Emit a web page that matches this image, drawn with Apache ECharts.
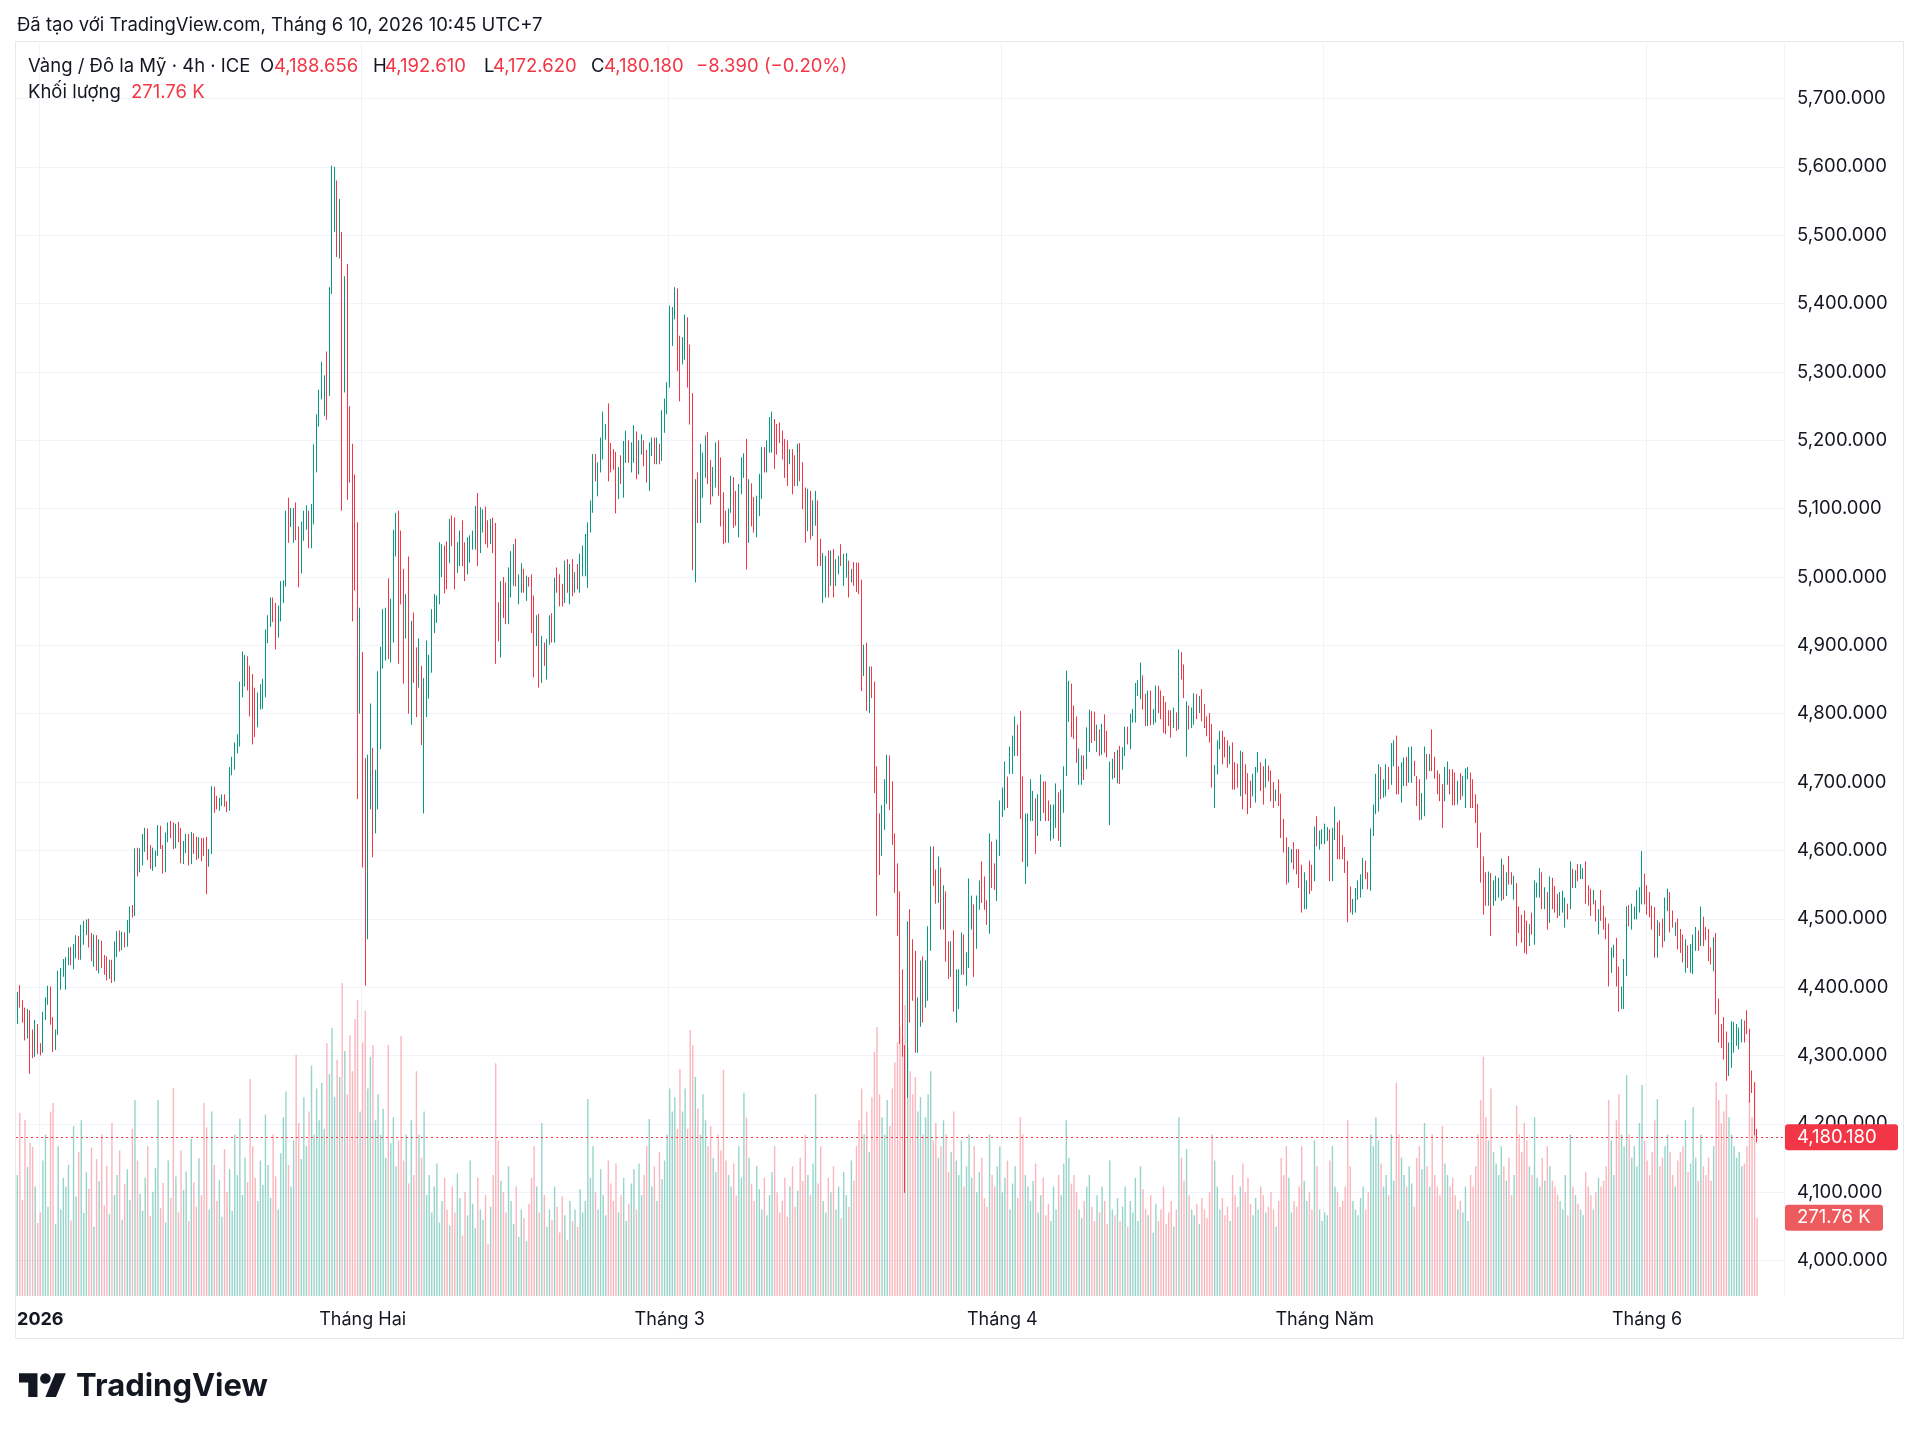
<!DOCTYPE html>
<html>
<head>
<meta charset="utf-8">
<title>Vàng / Đô la Mỹ · 4h · ICE</title>
<script src="https://cdn.jsdelivr.net/npm/echarts@6.0.0/dist/echarts.min.js"></script>
<style>
  html, body { margin: 0; padding: 0; background: #ffffff; }
  #chart { width: 1920px; height: 1433px; }
</style>
</head>
<body>
<div id="chart"></div>
<script>
const barsPerMonth = [9, 126, 120, 130, 126, 126, 44];
const monthNames = ['', '2026', 'Tháng Hai', 'Tháng 3', 'Tháng 4', 'Tháng Năm', 'Tháng 6'];
const rightPadBars = 10;

const opens = [
4350,4390,4375,4352,4328,4362,4303,4300,4335,4310, 4306,4358,4381,4398,4349,4310,4333,4420,4425,4437,
4440,4455,4436,4460,4473,4442,4488,4494,4497,4462, 4442,4474,4428,4466,4432,4421,4414,4437,4410,4464,
4478,4456,4478,4462,4495,4515,4506,4600,4570,4600, 4620,4629,4590,4577,4582,4596,4634,4606,4570,4623,
4638,4622,4606,4636,4616,4585,4611,4621,4581,4624, 4599,4590,4616,4612,4596,4578,4599,4691,4668,4663,
4674,4679,4668,4660,4718,4728,4748,4756,4828,4845, 4879,4867,4855,4835,4784,4811,4811,4828,4907,4931,
4966,4958,4915,4939,4966,4990,5111,5077,5054,5105, 5070,5010,5057,5073,5093,5046,5081,5157,5224,5264,
5240,5326,5270,5418,5560,5575,5470,5498,5284,5452, 5241,5187,5145,5074,4808,4884,4729,4483,4668,4744,
4630,4666,4752,4871,4883,4994,4879,4908,5035,5093, 5064,5008,4915,5025,4788,4943,4893,4842,4865,4800,
4800,4827,4864,4922,4937,4964,5005,5042,5047,5025, 5086,5083,5010,5020,5079,5047,5008,5025,5044,5044,
5119,5039,5069,5099,5079,5052,5083,5075,4959,4886, 4996,4988,4935,4974,4991,5052,4964,4981,5008,4969,
4996,5000,4969,4903,4942,4849,4900,4854,4905,4943, 4908,5010,5000,4986,4966,5022,4964,5022,4981,5015,
4981,5005,5005,4988,5069,5098,5176,5122,5157,5176, 5205,5250,5192,5183,5179,5118,5174,5120,5171,5196,
5157,5171,5209,5154,5183,5196,5182,5130,5181,5200, 5169,5191,5174,5215,5242,5281,5342,5381,5418,5349,
5315,5322,5376,5336,5265,4996,5149,5083,5120,5149, 5208,5167,5122,5135,5196,5171,5120,5093,5054,5098,
5142,5122,5062,5125,5149,5198,5054,5133,5113,5062, 5093,5118,5186,5157,5186,5186,5227,5220,5222,5210,
5198,5196,5169,5183,5174,5137,5192,5164,5127,5071, 5122,5064,5079,5108,5052,4966,4974,5035,4991,5037,
4991,5008,5044,4991,5003,5020,4996,5018,5017,5017, 4992,4859,4900,4805,4865,4843,4719,4650,4596,4634,
4672,4735,4697,4621,4577,4536,4422,4311,4242,4510, 4466,4449,4308,4346,4441,4374,4384,4457,4602,4568,
4527,4571,4488,4536,4463,4419,4479,4352,4372,4422, 4473,4406,4432,4488,4517,4460,4517,4580,4558,4523,
4482,4609,4577,4530,4596,4653,4663,4704,4716,4716, 4742,4780,4800,4704,4555,4580,4647,4647,4672,4625,
4647,4697,4697,4669,4618,4621,4637,4681,4609,4659, 4713,4792,4840,4808,4792,4700,4700,4735,4723,4748,
4800,4799,4748,4773,4744,4795,4771,4705,4708,4740, 4702,4749,4722,4742,4777,4752,4791,4791,4830,4825,
4852,4825,4786,4830,4788,4791,4837,4830,4822,4813, 4801,4801,4783,4798,4781,4886,4868,4790,4808,4783,
4788,4825,4805,4832,4810,4792,4797,4781,4666,4715, 4752,4771,4762,4757,4730,4754,4725,4722,4683,4740,
4722,4709,4698,4683,4674,4718,4725,4719,4696,4720, 4713,4696,4676,4700,4679,4642,4615,4557,4586,4608,
4598,4598,4575,4518,4518,4581,4575,4559,4646,4605, 4613,4613,4618,4627,4559,4619,4637,4640,4618,4601,
4581,4543,4510,4513,4532,4535,4547,4581,4564,4545, 4625,4657,4661,4718,4681,4683,4718,4700,4727,4764,
4719,4674,4698,4733,4703,4703,4727,4705,4700,4649, 4654,4737,4720,4773,4733,4713,4708,4693,4676,4700,
4715,4715,4710,4671,4709,4683,4666,4708,4710,4700, 4678,4664,4622,4587,4564,4523,4563,4523,4530,4535,
4530,4575,4537,4588,4564,4532,4548,4514,4502,4508, 4493,4464,4505,4466,4535,4535,4564,4518,4535,4498,
4556,4544,4532,4508,4513,4491,4518,4518,4569,4549, 4576,4562,4562,4580,4545,4540,4525,4523,4481,4538,
4515,4498,4489,4425,4447,4468,4426,4372,4372,4420, 4516,4488,4503,4503,4513,4525,4562,4545,4535,4515,
4513,4447,4491,4496,4471,4515,4535,4508,4479,4496, 4481,4473,4425,4457,4425,4423,4457,4479,4464,4499,
4484,4481,4454,4427,4475,4379,4342,4352,4331,4274, 4286,4308,4318,4313,4323,4347,4362,4335,4274,4257,
4188.656
];

const closes = [
4390,4375,4352,4328,4362,4303,4300,4335,4310,4306, 4358,4381,4398,4349,4310,4333,4420,4425,4437,4440,
4455,4436,4460,4473,4442,4488,4494,4497,4462,4442, 4474,4428,4466,4432,4421,4414,4437,4410,4464,4478,
4456,4478,4462,4495,4515,4506,4600,4570,4600,4620, 4629,4590,4577,4582,4596,4634,4606,4570,4623,4638,
4622,4606,4636,4616,4585,4611,4621,4581,4624,4599, 4590,4616,4612,4596,4578,4599,4691,4668,4663,4674,
4679,4668,4660,4718,4733,4752,4766,4843,4887,4880, 4839,4800,4772,4772,4827,4839,4847,4919,4940,4966,
4939,4899,4954,4990,4990,5093,5054,5097,5097,5058, 4990,5077,5093,5101,5046,5103,5190,5234,5270,5311,
5290,5236,5420,5599,5594,5474,5549,5150,5426,5140, 5145,4943,4990,4683,4948,4582,4440,4733,4811,4596,
4713,4857,4893,4949,4950,4884,4964,5065,5091,4878, 4966,4849,4971,4805,4932,4849,4800,4905,4759,4847,
4903,4882,4949,4971,4969,5047,5044,4981,4986,5081, 5049,4986,5047,5064,5020,4998,5054,5057,5064,5100,
5020,5098,5095,5052,5047,5081,5039,4878,4910,4990, 4944,4935,5010,5034,5044,4990,5000,5016,4981,4998,
4990,4922,4857,4940,4842,4910,4874,4905,4940,4908, 4995,4981,4961,4961,5020,4981,5015,4976,5003,4986,
5030,5042,5059,5076,5108,5176,5144,5164,5200,5238, 5220,5144,5157,5161,5140,5157,5140,5195,5210,5171,
5193,5218,5147,5196,5205,5166,5142,5193,5200,5169, 5200,5169,5240,5257,5281,5393,5391,5420,5305,5261,
5347,5380,5281,5227,5015,5139,5083,5191,5178,5203, 5140,5110,5157,5193,5123,5078,5052,5054,5096,5144,
5076,5079,5132,5171,5177,5015,5139,5078,5069,5115, 5147,5186,5157,5196,5230,5238,5162,5183,5200,5176,
5149,5137,5183,5125,5137,5191,5144,5103,5054,5125, 5059,5108,5122,5020,5020,5031,5027,4974,5035,4974,
5022,5027,5020,5030,5031,4974,5008,4991,4982,4979, 4837,4897,4808,4865,4827,4688,4600,4568,4662,4700,
4736,4663,4612,4542,4479,4321,4302,4230,4492,4352, 4384,4308,4381,4435,4352,4435,4485,4602,4552,4526,
4587,4488,4545,4441,4416,4463,4368,4422,4422,4476, 4422,4447,4555,4530,4419,4530,4552,4527,4517,4495,
4621,4549,4546,4612,4669,4688,4726,4666,4748,4764, 4792,4742,4650,4587,4650,4650,4700,4683,4599,4678,
4707,4659,4647,4647,4663,4663,4694,4618,4685,4719, 4859,4844,4770,4767,4732,4745,4735,4707,4776,4802,
4761,4764,4780,4742,4781,4747,4740,4727,4730,4710, 4743,4701,4747,4777,4759,4796,4803,4841,4845,4871,
4810,4786,4830,4787,4803,4837,4805,4796,4776,4774, 4786,4769,4805,4779,4890,4854,4827,4814,4781,4805,
4826,4796,4822,4793,4783,4771,4762,4696,4721,4757, 4771,4730,4740,4725,4749,4693,4693,4698,4742,4664,
4686,4657,4666,4708,4718,4740,4691,4671,4730,4705, 4676,4666,4685,4669,4622,4601,4554,4601,4598,4576,
4569,4549,4520,4564,4552,4540,4545,4631,4610,4625, 4627,4635,4630,4559,4629,4660,4591,4591,4591,4571,
4499,4513,4525,4541,4552,4561,4585,4562,4547,4628, 4663,4708,4722,4679,4700,4722,4693,4753,4757,4686,
4686,4725,4732,4698,4747,4748,4713,4669,4648,4680, 4748,4708,4737,4720,4709,4686,4676,4637,4718,4726,
4686,4670,4670,4698,4678,4705,4716,4718,4666,4666, 4644,4608,4557,4510,4523,4565,4479,4552,4559,4556,
4584,4532,4564,4554,4554,4559,4464,4483,4469,4454, 4452,4488,4481,4552,4549,4570,4518,4542,4488,4558,
4518,4513,4505,4535,4537,4527,4503,4580,4549,4567, 4559,4576,4570,4526,4523,4508,4538,4500,4510,4501,
4488,4474,4420,4454,4458,4405,4372,4397,4437,4514, 4493,4518,4514,4538,4542,4595,4525,4510,4506,4488,
4447,4494,4479,4462,4527,4540,4484,4491,4491,4459, 4454,4440,4466,4432,4459,4473,4484,4457,4514,4464,
4473,4442,4437,4469,4364,4323,4315,4298,4267,4315, 4346,4345,4342,4337,4349,4323,4335,4235,4249,4188.57,
4180.18
];

const highs = [
4393,4403,4381,4370,4368,4366,4338,4352,4346,4318, 4364,4385,4402,4401,4356,4338,4424,4428,4441,4444,
4458,4459,4463,4476,4475,4491,4497,4499,4500,4479, 4477,4476,4470,4468,4447,4445,4440,4440,4467,4482,
4483,4481,4480,4498,4518,4520,4603,4604,4603,4624, 4633,4632,4608,4604,4600,4637,4636,4608,4626,4641,
4643,4641,4639,4642,4633,4614,4624,4624,4627,4625, 4620,4619,4618,4618,4620,4602,4694,4693,4680,4677,
4682,4682,4672,4722,4737,4758,4770,4847,4891,4886, 4884,4870,4858,4838,4831,4843,4851,4923,4944,4970,
4970,4962,4958,4994,4995,5097,5116,5101,5101,5109, 5074,5081,5097,5105,5097,5107,5194,5238,5274,5315,
5295,5330,5424,5602,5600,5580,5553,5505,5440,5458, 5250,5195,5150,5080,4955,4890,4735,4740,4815,4750,
4718,4862,4898,4953,4955,4998,4968,5069,5094,5097, 5068,5012,4975,5030,4936,4948,4897,4910,4870,4852,
4907,4886,4953,4975,4973,5051,5048,5046,5052,5085, 5090,5087,5051,5068,5083,5051,5058,5061,5068,5104,
5123,5102,5099,5103,5083,5085,5087,5079,4963,4994, 5000,4992,5014,5038,5048,5056,5004,5020,5012,5002,
5000,5004,4973,4944,4946,4914,4904,4909,4944,4947, 4999,5014,5004,4990,5024,5026,5019,5026,5007,5019,
5034,5046,5063,5080,5112,5180,5180,5168,5204,5242, 5224,5254,5196,5187,5183,5161,5178,5199,5214,5200,
5197,5222,5213,5200,5209,5200,5186,5197,5204,5204, 5204,5195,5244,5261,5285,5397,5395,5424,5422,5353,
5351,5384,5380,5340,5269,5143,5153,5195,5182,5207, 5212,5171,5161,5197,5200,5175,5124,5097,5100,5148,
5146,5126,5136,5175,5181,5202,5143,5137,5117,5119, 5151,5190,5190,5200,5234,5242,5231,5224,5226,5214,
5202,5200,5187,5187,5178,5195,5196,5168,5131,5129, 5126,5112,5126,5112,5056,5035,5031,5039,5039,5041,
5026,5031,5048,5034,5035,5024,5012,5022,5021,5021, 4996,4901,4904,4869,4869,4847,4723,4654,4666,4704,
4740,4739,4701,4625,4581,4540,4426,4315,4496,4514, 4470,4453,4385,4439,4445,4439,4489,4606,4606,4572,
4591,4575,4549,4540,4467,4467,4483,4426,4426,4480, 4477,4451,4559,4534,4521,4534,4556,4584,4562,4527,
4625,4613,4581,4616,4673,4692,4730,4708,4752,4768, 4796,4784,4804,4708,4654,4654,4704,4687,4676,4682,
4711,4701,4701,4673,4667,4667,4698,4685,4689,4723, 4863,4848,4844,4812,4796,4749,4739,4739,4780,4806,
4804,4803,4784,4777,4785,4799,4775,4730,4734,4744, 4747,4753,4751,4781,4781,4800,4807,4845,4849,4875,
4856,4829,4834,4834,4807,4841,4841,4834,4826,4817, 4805,4805,4809,4802,4894,4890,4872,4818,4812,4809,
4830,4829,4826,4836,4814,4796,4801,4785,4725,4761, 4775,4775,4766,4761,4753,4758,4729,4727,4746,4744,
4726,4713,4702,4712,4722,4744,4729,4723,4734,4724, 4717,4700,4689,4704,4683,4646,4619,4605,4602,4612,
4602,4602,4579,4568,4556,4585,4579,4635,4650,4629, 4631,4639,4634,4631,4633,4664,4641,4644,4622,4605,
4585,4547,4529,4545,4556,4565,4589,4585,4568,4632, 4667,4712,4726,4722,4704,4726,4722,4757,4761,4768,
4723,4729,4736,4737,4751,4752,4731,4709,4704,4684, 4752,4741,4741,4777,4737,4717,4712,4697,4722,4730,
4719,4719,4714,4702,4713,4709,4720,4722,4714,4704, 4682,4668,4626,4591,4568,4569,4567,4556,4563,4560,
4588,4579,4568,4592,4568,4563,4552,4518,4506,4512, 4497,4492,4509,4556,4553,4574,4568,4546,4539,4562,
4560,4548,4536,4539,4541,4531,4522,4584,4573,4571, 4580,4580,4574,4584,4549,4544,4542,4527,4514,4542,
4519,4502,4493,4458,4462,4472,4430,4401,4441,4518, 4520,4522,4518,4542,4546,4599,4566,4549,4539,4519,
4517,4498,4495,4500,4531,4544,4539,4512,4495,4500, 4485,4477,4470,4461,4463,4477,4488,4483,4518,4503,
4488,4485,4458,4473,4479,4383,4346,4356,4335,4319, 4350,4349,4346,4341,4353,4351,4366,4339,4278,4261,
4192.61
];

const lows = [
4346,4370,4348,4322,4325,4273,4296,4298,4302,4300, 4304,4352,4374,4345,4305,4308,4330,4396,4415,4396,
4432,4432,4426,4442,4440,4440,4462,4476,4458,4438, 4430,4424,4420,4428,4418,4410,4412,4406,4408,4444,
4452,4454,4458,4459,4479,4502,4504,4562,4568,4578, 4598,4586,4573,4570,4576,4592,4602,4566,4568,4612,
4618,4602,4603,4612,4581,4580,4596,4578,4580,4595, 4586,4588,4584,4592,4536,4576,4595,4655,4660,4658,
4665,4664,4656,4658,4710,4718,4742,4752,4824,4840, 4834,4796,4755,4766,4780,4806,4807,4824,4903,4927,
4934,4894,4911,4935,4962,4986,5050,5073,5050,5054, 4985,5005,5053,5069,5042,5042,5077,5153,5220,5260,
5236,5230,5265,5414,5505,5468,5466,5097,5270,5113, 5138,4935,4980,4675,4800,4575,4402,4470,4660,4590,
4625,4660,4748,4866,4878,4880,4875,4904,5030,4873, 4960,4844,4910,4800,4784,4845,4795,4838,4754,4654,
4795,4822,4860,4918,4933,4960,5000,4976,4982,5020, 5045,4982,5006,5016,5016,4994,5004,5021,5040,5040,
5016,5035,5065,5048,5043,5048,5035,4873,4906,4882, 4940,4931,4931,4970,4987,4986,4960,4977,4977,4965,
4986,4918,4853,4899,4838,4845,4870,4850,4901,4904, 4904,4977,4957,4957,4962,4977,4960,4972,4977,4982,
4977,5001,5001,4984,5065,5094,5140,5118,5153,5172, 5201,5140,5153,5157,5093,5114,5136,5116,5167,5167,
5153,5167,5143,5150,5179,5162,5138,5126,5177,5165, 5165,5165,5170,5211,5238,5277,5338,5377,5301,5257,
5311,5318,5277,5223,5010,4992,5079,5079,5116,5145, 5136,5106,5118,5131,5119,5074,5048,5050,5050,5094,
5072,5075,5058,5121,5145,5011,5050,5074,5065,5058, 5089,5114,5153,5153,5182,5182,5158,5179,5196,5172,
5145,5133,5165,5121,5133,5133,5140,5099,5050,5067, 5055,5060,5075,5016,5016,4962,4970,4970,4987,4970,
4987,5004,5016,4987,4999,4970,4992,4987,4978,4975, 4833,4855,4804,4801,4823,4684,4504,4564,4592,4630,
4668,4659,4608,4538,4475,4317,4298,4099,4238,4348, 4380,4304,4304,4342,4348,4370,4380,4453,4548,4522,
4523,4484,4484,4437,4412,4415,4364,4348,4368,4418, 4418,4402,4428,4484,4415,4456,4513,4523,4513,4491,
4478,4545,4542,4526,4592,4649,4659,4662,4712,4712, 4738,4738,4646,4583,4551,4576,4643,4643,4595,4621,
4643,4655,4643,4643,4614,4617,4633,4614,4605,4655, 4709,4788,4766,4763,4728,4696,4696,4703,4719,4744,
4757,4760,4744,4738,4740,4743,4736,4637,4704,4706, 4698,4697,4718,4738,4755,4748,4787,4787,4826,4821,
4806,4782,4782,4783,4784,4787,4801,4792,4772,4770, 4782,4765,4779,4775,4777,4850,4823,4737,4777,4779,
4784,4792,4801,4789,4779,4767,4758,4692,4662,4711, 4748,4726,4736,4721,4726,4689,4689,4692,4679,4660,
4682,4653,4662,4679,4670,4714,4687,4667,4692,4701, 4672,4662,4672,4665,4618,4597,4550,4553,4582,4572,
4565,4545,4509,4514,4514,4536,4541,4555,4606,4601, 4609,4609,4614,4555,4555,4615,4587,4587,4587,4567,
4495,4509,4506,4509,4528,4531,4543,4558,4543,4541, 4621,4653,4657,4675,4677,4679,4689,4696,4723,4682,
4682,4670,4694,4694,4699,4699,4709,4665,4644,4645, 4650,4704,4716,4716,4705,4682,4672,4633,4672,4696,
4682,4666,4666,4667,4674,4679,4662,4704,4662,4662, 4640,4604,4553,4506,4519,4519,4475,4519,4526,4531,
4526,4528,4533,4550,4550,4528,4460,4479,4465,4450, 4448,4460,4477,4462,4531,4531,4514,4514,4484,4494,
4514,4509,4501,4504,4509,4487,4499,4514,4545,4545, 4555,4558,4558,4522,4519,4504,4521,4496,4477,4497,
4484,4470,4401,4421,4443,4401,4364,4368,4368,4416, 4489,4484,4499,4499,4509,4521,4521,4506,4502,4484,
4443,4443,4475,4458,4467,4511,4480,4487,4475,4455, 4450,4436,4421,4428,4421,4419,4453,4453,4460,4460,
4469,4438,4433,4423,4360,4319,4311,4294,4263,4270, 4282,4304,4314,4309,4319,4319,4331,4231,4245,4183,
4172.62
];

// volume, thousands
const volumes = [
420,636,333,611,448,531,517,380,253,290, 470,560,310,640,670,250,520,300,410,380,
455,262,590,345,500,610,288,430,372,515, 240,475,398,560,315,452,285,600,350,420,
505,265,388,440,332,580,680,470,355,296, 410,520,278,362,445,680,305,392,255,470,
340,722,415,290,505,368,432,260,545,395, 310,478,350,670,585,300,640,455,330,402,
275,510,362,440,295,560,420,615,350,480, 395,753,520,410,330,470,385,630,455,340,
560,415,300,495,620,710,455,380,540,836, 600,475,690,520,640,800,560,720,610,740,
580,877,770,930,690,820,760,1086,850,700, 905,780,960,1027,640,880,990,720,830,871,
610,700,560,650,480,871,530,620,450,540, 902,470,560,390,610,420,780,560,480,640,
350,420,290,380,460,255,330,410,300,245, 380,290,425,340,210,360,280,470,320,235,
410,300,265,350,180,310,420,808,540,400, 360,290,450,330,250,380,205,300,270,190,
320,410,520,380,290,600,350,240,300,265, 380,310,220,345,280,195,330,260,300,240,
370,290,330,684,410,520,360,300,440,350, 280,470,390,330,460,290,350,410,260,320,
390,440,300,460,350,420,520,614,380,450, 330,500,405,470,560,720,640,690,580,788,
640,720,580,923,870,760,650,560,700,610, 520,590,480,430,560,505,785,470,420,380,
460,350,520,410,705,620,480,390,330,450, 370,300,410,280,350,430,520,360,290,330,
410,275,380,450,310,365,480,400,560,420, 350,460,700,390,520,330,290,410,360,450,
300,380,270,430,350,310,470,400,520,610, 720,560,640,500,690,847,933,700,620,560,
680,590,720,810,880,935,900,1010,860,780, 700,760,640,690,560,620,700,780,540,600,
480,520,610,560,430,500,640,470,420,540, 380,450,560,410,520,360,430,480,340,310,
560,420,380,450,520,360,410,470,300,390, 450,340,620,560,420,380,330,400,460,290,
350,410,280,320,260,380,300,420,350,460, 610,480,390,420,360,300,270,330,380,420,
310,260,350,290,380,330,250,470,300,280, 340,260,310,380,240,330,290,410,260,450,
370,300,280,350,220,320,260,300,380,250, 290,330,240,300,620,480,400,510,350,300,
280,320,250,340,300,270,360,560,470,380, 300,340,280,310,260,420,350,310,380,460,
360,410,320,280,340,300,380,350,290,310, 360,300,240,330,480,420,520,410,290,330,
310,380,520,400,330,360,300,540,450,300, 260,290,280,470,520,380,360,310,330,380,
610,450,330,300,280,340,380,300,360,560, 520,620,540,460,380,420,350,560,400,740,
560,480,420,380,450,390,310,480,520,440, 600,450,380,560,420,380,350,590,460,420,
380,410,350,300,330,290,380,260,420,380, 450,560,680,830,620,540,720,500,460,420,
520,450,400,480,350,420,660,560,500,600, 540,450,420,620,410,380,480,400,520,450,
400,380,350,330,300,420,280,560,380,350, 320,300,280,430,380,350,300,360,410,380,
400,450,680,540,420,610,700,560,520,767, 560,480,520,450,600,732,540,470,420,500,
610,683,450,480,520,560,500,420,380,470, 500,520,610,430,460,655,480,400,560,450,
420,480,400,520,742,680,600,640,700,620, 560,520,480,500,450,460,520,680,620,740,
271.76
];

const UP = '#089981';
const DOWN = '#f23645';
const VOL_UP = 'rgba(8,153,129,0.42)';
const VOL_DOWN = 'rgba(242,54,69,0.36)';
const INK = '#131722';
const GRID_LINE = '#f0f3fa';
const FONT = 'Inter, "Noto Sans", sans-serif';

// time axis: one category per 4h bar, plus the empty right margin TradingView keeps
const categories = [];
const monthStart = {};
barsPerMonth.forEach((n, m) => {
  for (let j = 0; j < n; j++) {
    if (j === 0 && monthNames[m]) monthStart[categories.length] = monthNames[m];
    categories.push('m' + m + '-' + j);
  }
});
for (let j = 0; j < rightPadBars; j++) categories.push('pad-' + j);

const candleData = opens.map((o, i) => [o, closes[i], lows[i], highs[i]]);
const volData = volumes.map((v, i) => ({
  value: v,
  itemStyle: { color: closes[i] >= opens[i] ? VOL_UP : VOL_DOWN }
}));

const n = closes.length;
const lastOpen = opens[n - 1], lastClose = closes[n - 1];
const lastHigh = highs[n - 1], lastLow = lows[n - 1];
const lastVol = volumes[n - 1];
const change = lastClose - closes[n - 2];
const changePct = change / closes[n - 2] * 100;

function fmt3(v) {
  return v.toLocaleString('en-US', { minimumFractionDigits: 3, maximumFractionDigits: 3 });
}
function signed(s) {
  return s.replace('-', '\u2212');
}
const isMonthStart = (i) => monthStart[i] !== undefined;

const chart = echarts.init(document.getElementById('chart'));

chart.setOption({
  animation: false,
  backgroundColor: '#ffffff',
  grid: [
    // price pane: 3900..5800 mapped so that 4000..5700 land where the snapshot has them
    { left: 16, right: 136, top: 30.2, bottom: 104.15 },
    // volume overlay + time axis
    { left: 16, right: 136, top: 43, bottom: 137 }
  ],
  xAxis: [
    { type: 'category', gridIndex: 0, data: categories, show: false },
    {
      type: 'category', gridIndex: 1, data: categories, boundaryGap: true,
      axisLine: { show: false },
      axisTick: { show: false },
      axisLabel: {
        interval: (i) => isMonthStart(i),
        formatter: (v, i) => monthStart[i] === '2026' ? '{b|2026}' : (monthStart[i] || ''),
        color: INK, fontSize: 18, fontFamily: FONT, margin: 15,
        rich: { b: { fontWeight: 'bold', fontSize: 18, fontFamily: FONT, color: INK } }
      },
      splitLine: { show: true, interval: (i) => isMonthStart(i), lineStyle: { color: GRID_LINE, width: 1 } }
    }
  ],
  yAxis: [
    {
      type: 'value', gridIndex: 0, position: 'right',
      min: 3900, max: 5800, interval: 100,
      axisLine: { show: false },
      axisTick: { show: false },
      axisLabel: {
        formatter: fmt3, color: INK, fontSize: 18.5, fontFamily: FONT, margin: 13,
        showMinLabel: false, showMaxLabel: false
      },
      splitLine: { show: true, showMinLine: false, showMaxLine: false, lineStyle: { color: GRID_LINE, width: 1 } }
    },
    { type: 'value', gridIndex: 1, min: 0, max: 4348, show: false }
  ],
  series: [
    {
      name: 'Khối lượng', type: 'bar', xAxisIndex: 1, yAxisIndex: 1,
      data: volData, barWidth: 1.4, silent: true, z: 1
    },
    {
      name: 'Vàng', type: 'candlestick', xAxisIndex: 0, yAxisIndex: 0,
      data: candleData, barWidth: 1.2, large: false, silent: true, z: 5,
      itemStyle: { color: UP, color0: DOWN, borderColor: UP, borderColor0: DOWN, borderWidth: 1 },
      markLine: {
        silent: true, symbol: ['none', 'none'], animation: false,
        label: { show: false },
        lineStyle: { color: DOWN, type: [2, 3], width: 1 },
        data: [{ yAxis: lastClose }]
      }
    }
  ]
});

const yPrice = chart.convertToPixel({ yAxisIndex: 0 }, lastClose);
const yVol = chart.convertToPixel({ yAxisIndex: 1 }, lastVol);

function txt(x, y, text, fill, font) {
  return { type: 'text', x: x, y: y, silent: true, z: 20,
    style: { text: text, fill: fill, font: font, textVerticalAlign: 'middle' } };
}
const fHead = '18.5px ' + FONT;
const f18 = '18.5px ' + FONT;

// TradingView mark, drawn on a 36x28 grid and scaled into place
const LOGO_X = 19, LOGO_Y = 1368, LOGO_S = 1.32;
const logoPt = (p) => [LOGO_X + p[0] * LOGO_S, LOGO_Y + p[1] * LOGO_S];
const logoBar = [[14, 22], [7, 22], [7, 11], [0, 11], [0, 4], [14, 4]].map(logoPt);
const logoSlash = [[28, 22], [20, 22], [27.5, 4], [35.5, 4]].map(logoPt);

chart.setOption({
  graphic: [
    // chart frame
    { type: 'rect', silent: true, z: 0, shape: { x: 15.5, y: 41.5, width: 1888, height: 1297 },
      style: { fill: 'none', stroke: '#e6e8ee', lineWidth: 1 } },
    txt(17, 25, 'Đã tạo với TradingView.com, Tháng 6 10, 2026 10:45 UTC+7', INK, fHead),
    // legend
    txt(28, 66, 'Vàng / Đô la Mỹ · 4h · ICE', INK, fHead),
    txt(260, 66, 'O', INK, fHead), txt(274, 66, fmt3(lastOpen), DOWN, fHead),
    txt(373, 66, 'H', INK, fHead), txt(385, 66, fmt3(lastHigh), DOWN, fHead),
    txt(484, 66, 'L', INK, fHead), txt(493, 66, fmt3(lastLow), DOWN, fHead),
    txt(591, 66, 'C', INK, fHead), txt(604, 66, fmt3(lastClose), DOWN, fHead),
    txt(696, 66, signed(change.toFixed(3)) + ' (' + signed(changePct.toFixed(2)) + '%)', DOWN, fHead),
    txt(28, 92, 'Khối lượng', INK, fHead),
    txt(131, 92, lastVol.toFixed(2) + ' K', DOWN, fHead),
    // last price tag
    { type: 'rect', silent: true, z: 20, shape: { x: 1785, y: yPrice - 13, width: 113, height: 26, r: 3 },
      style: { fill: DOWN } },
    txt(1797, yPrice, fmt3(lastClose), '#ffffff', f18),
    // last volume tag
    { type: 'rect', silent: true, z: 20, shape: { x: 1785, y: yVol - 13, width: 98, height: 26, r: 3 },
      style: { fill: '#ee5b5f' } },
    txt(1797, yVol, lastVol.toFixed(2) + ' K', '#ffffff', f18),
    // logo
    { type: 'polygon', silent: true, shape: { points: logoBar }, style: { fill: INK } },
    { type: 'polygon', silent: true, shape: { points: logoSlash }, style: { fill: INK } },
    { type: 'circle', silent: true, shape: { cx: LOGO_X + 20 * LOGO_S, cy: LOGO_Y + 8 * LOGO_S, r: 4 * LOGO_S },
      style: { fill: INK } },
    txt(76, 1387, 'TradingView', INK, 'bold 31px ' + FONT)
  ]
});
</script>
</body>
</html>
